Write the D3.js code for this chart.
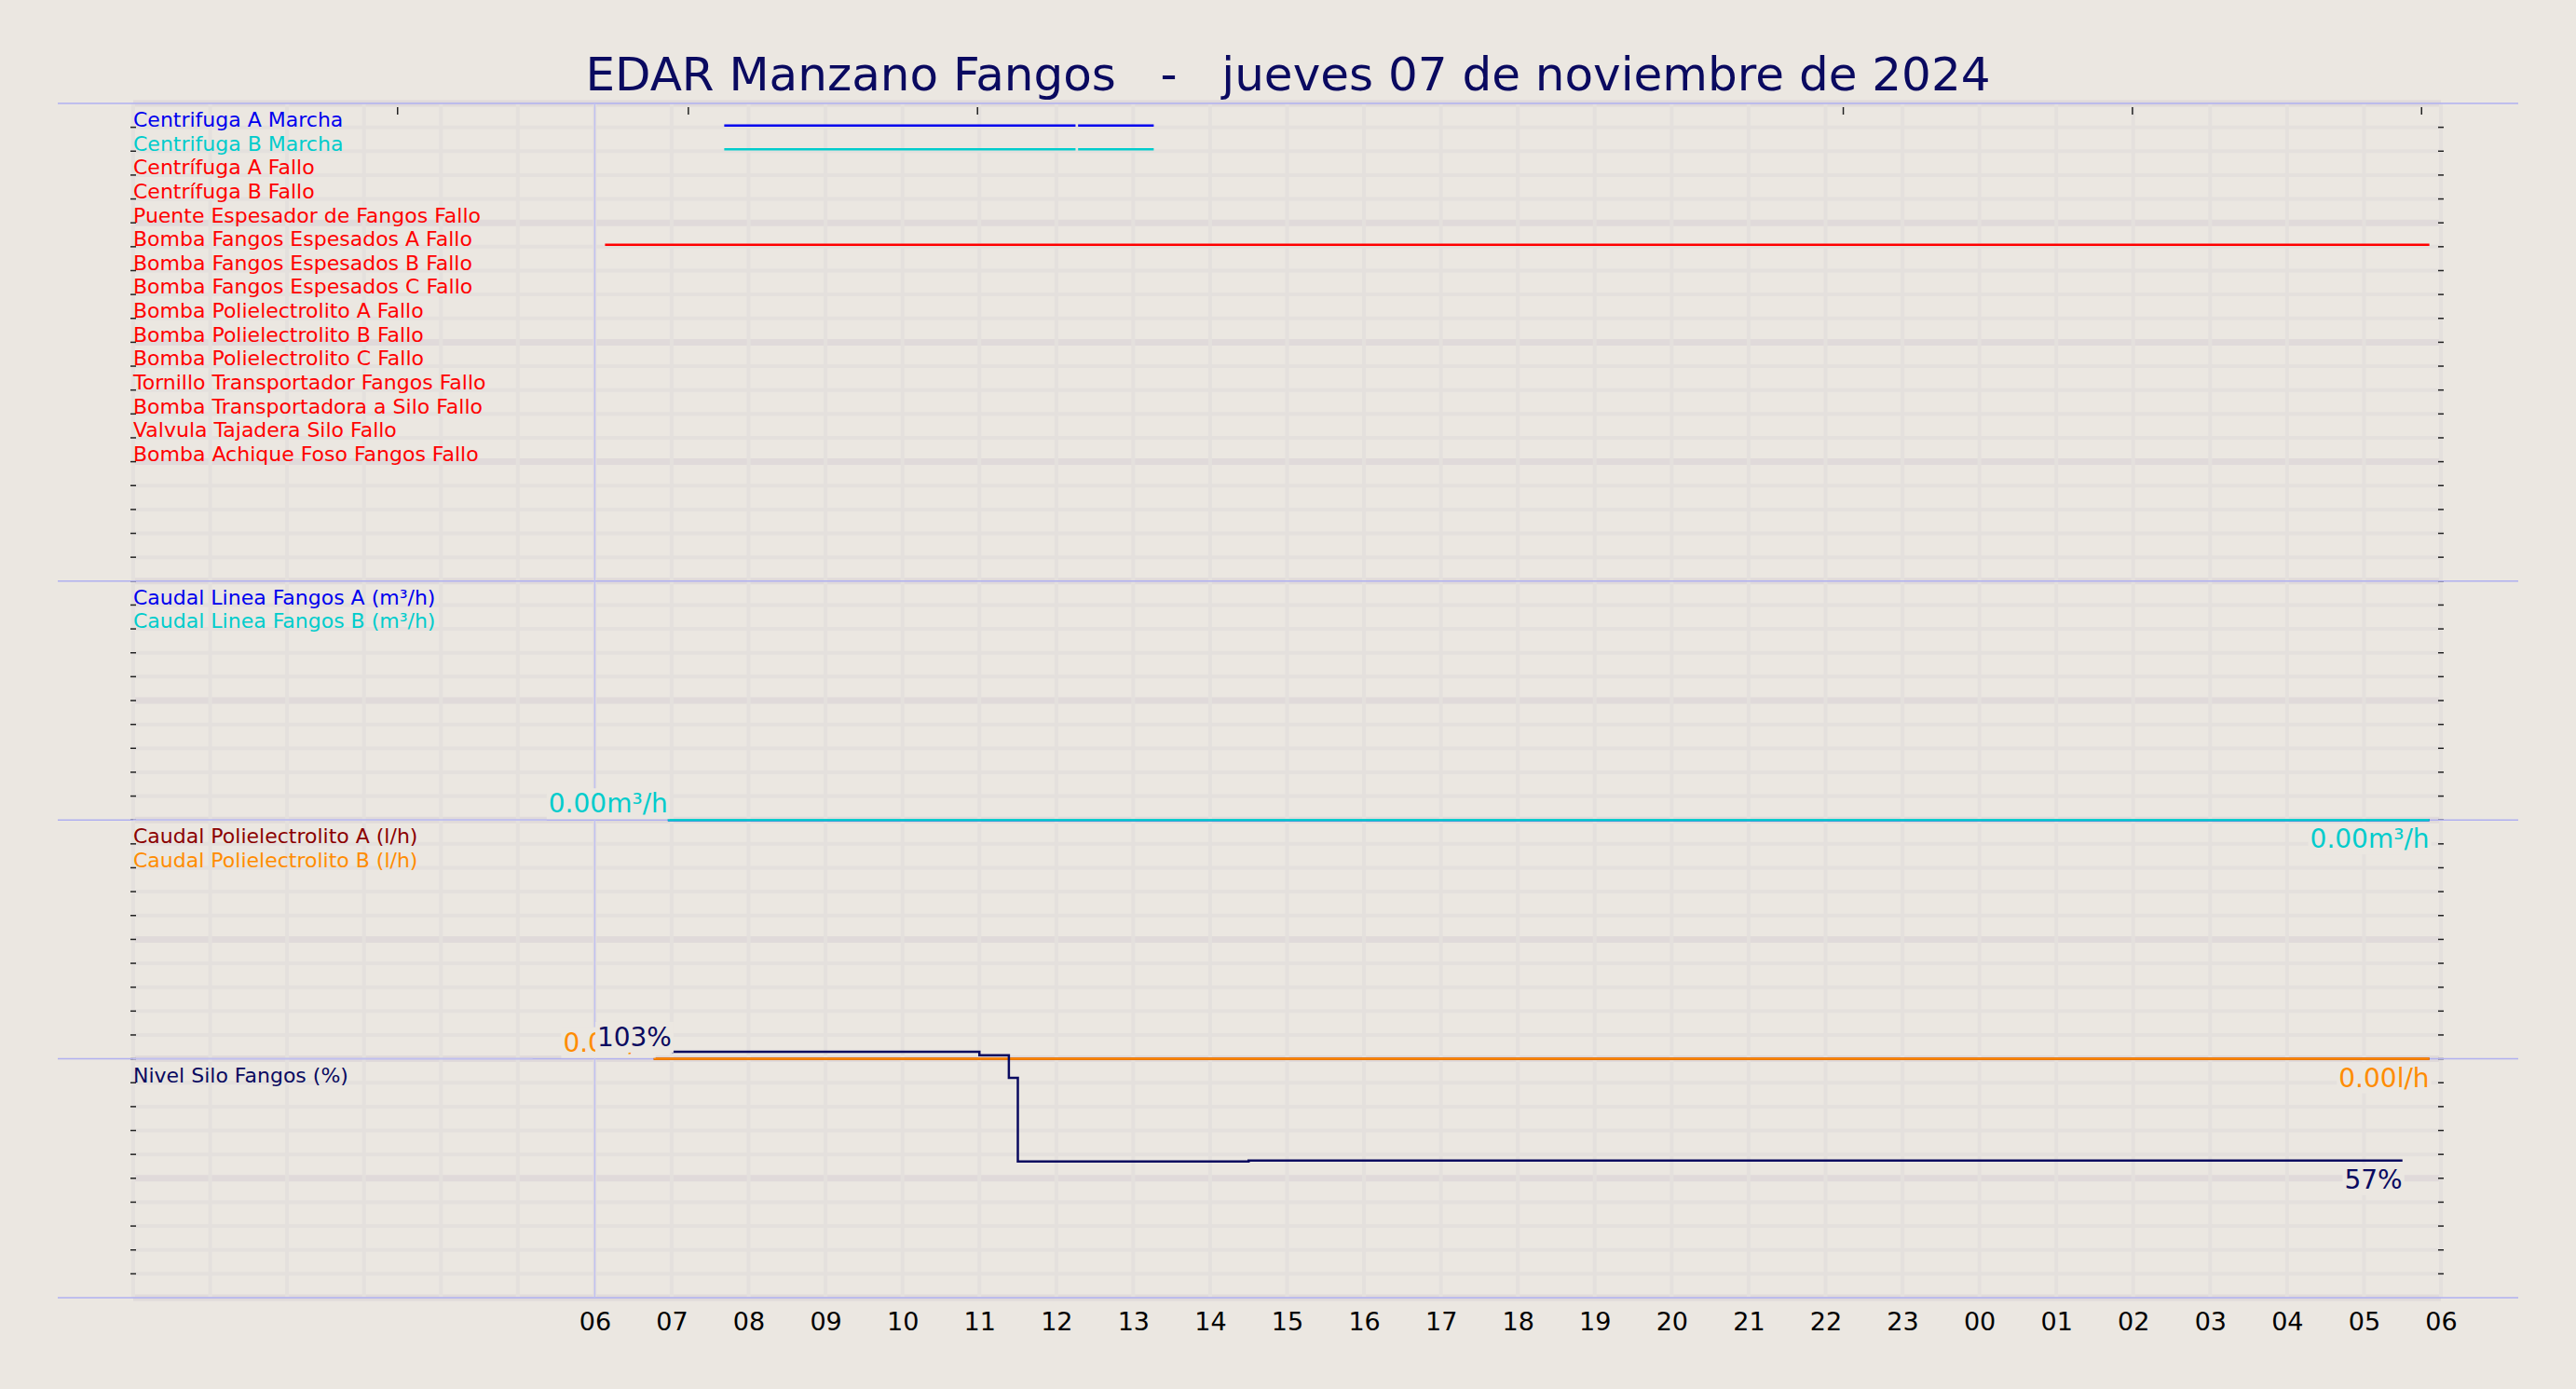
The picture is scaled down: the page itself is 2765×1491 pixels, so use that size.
<!DOCTYPE html>
<html><head><meta charset="utf-8">
<script src="https://cdn.jsdelivr.net/npm/d3@7"></script>
<style>body{margin:0;background:#ebe7e1;}text{font-family:"DejaVu Sans",sans-serif;}</style>
</head><body><div id="chart"></div>
<script>
// digital signals (top panel)
const digitalLabels = ["Centrifuga A Marcha","Centrifuga B Marcha","Centrífuga A Fallo","Centrífuga B Fallo",
  "Puente Espesador de Fangos Fallo","Bomba Fangos Espesados A Fallo","Bomba Fangos Espesados B Fallo",
  "Bomba Fangos Espesados C Fallo","Bomba Polielectrolito A Fallo","Bomba Polielectrolito B Fallo",
  "Bomba Polielectrolito C Fallo","Tornillo Transportador Fangos Fallo","Bomba Transportadora a Silo Fallo",
  "Valvula Tajadera Silo Fallo","Bomba Achique Foso Fangos Fallo"];
const digitalColors = ["#0000ee","#00cccc","#ff0000","#ff0000","#ff0000","#ff0000","#ff0000","#ff0000",
  "#ff0000","#ff0000","#ff0000","#ff0000","#ff0000","#ff0000","#ff0000"];
// [row, start, end]
const digitalOn = [
  [0,"2024-11-07 07:41","2024-11-07 12:15"],[0,"2024-11-07 12:17","2024-11-07 13:16"],
  [1,"2024-11-07 07:41","2024-11-07 12:15"],[1,"2024-11-07 12:17","2024-11-07 13:16"],
  [5,"2024-11-07 06:08","2024-11-08 05:51"]];

const caudalLabels = ["Caudal Linea Fangos A (m³/h)","Caudal Linea Fangos B (m³/h)"];
const caudalColors = ["#0000ee","#00cccc"];
const caudalA = [["2024-11-07 06:57",0],["2024-11-08 05:51",0]];
const caudalB = [["2024-11-07 06:57",0],["2024-11-08 05:51",0]];

const polyLabels = ["Caudal Polielectrolito A (l/h)","Caudal Polielectrolito B (l/h)"];
const polyColors = ["#8b0000","#ff8c00"];
const polyA = [["2024-11-07 06:46",0],["2024-11-08 05:51",0]];
const polyB = [["2024-11-07 06:46",0],["2024-11-08 05:51",0]];

const nivelLabel = "Nivel Silo Fangos (%)";
const nivel = [["2024-11-07 07:00",103],["2024-11-07 11:00",101.5],["2024-11-07 11:23",92],
  ["2024-11-07 11:30",57],["2024-11-07 14:30",57.4],["2024-11-08 05:30",57.4]];

const W = 2765, H = 1491;
const pLeft = 143, pRight = 2620, pTop = 111, pBottom = 1393;
const rowsPer = [20,10,10,10];
const rowH = (pBottom - pTop) / 50;
const parse = d3.timeParse("%Y-%m-%d %H:%M");

const svg = d3.select("#chart").append("svg").attr("width", W).attr("height", H);
svg.append("rect").attr("width", W).attr("height", H).attr("fill", "#ebe7e1");

const x = d3.scaleTime().domain([parse("2024-11-07 00:00"), parse("2024-11-08 06:00")]).range([pLeft, pRight]);

// panel tops
const panelTop = [];
let acc = pTop;
rowsPer.forEach(n => { panelTop.push(acc); acc += n * rowH; });

// grid
const grid = svg.append("g");
for (let r = 0; r <= 50; r++) {
  const y = pTop + r * rowH;
  grid.append("line").attr("x1", pLeft).attr("x2", pRight).attr("y1", y).attr("y2", y)
    .attr("stroke", r % 5 === 0 ? "#e0dada" : "#e4e0dd").attr("stroke-width", r % 5 === 0 ? 7 : 4);
}
x.ticks(d3.timeHour.every(1)).forEach(t => {
  grid.append("line").attr("x1", x(t)).attr("x2", x(t)).attr("y1", pTop).attr("y2", pBottom)
    .attr("stroke", "#e4e0dd").attr("stroke-width", 4);
});
// small ticks left/right
for (let r = 1; r < 50; r++) {
  const y = pTop + r * rowH;
  [pLeft, pRight].forEach(xx => grid.append("line").attr("x1", xx - 3).attr("x2", xx + 3)
    .attr("y1", y).attr("y2", y).attr("stroke", "#222").attr("stroke-width", 1.5));
}
// panel separators
[pTop, ...panelTop.slice(1), pBottom].forEach(y => {
  svg.append("line").attr("x1", 62).attr("x2", 2703).attr("y1", y).attr("y2", y)
    .attr("stroke", "#b0b0f0").attr("stroke-width", 1.5);
});
svg.append("line").attr("x1", x(parse("2024-11-07 06:00"))).attr("x2", x(parse("2024-11-07 06:00")))
  .attr("y1", pTop).attr("y2", pBottom).attr("stroke", "#c0c0f0").attr("stroke-width", 1.5);

// x axis
const xAxis = svg.append("g").attr("transform", `translate(0,${pBottom})`)
  .call(d3.axisBottom(x).tickValues(d3.timeHour.range(parse("2024-11-07 06:00"), parse("2024-11-08 06:01")))
    .tickFormat(d3.timeFormat("%H")).tickSize(0).tickPadding(16));
xAxis.select(".domain").remove();
xAxis.selectAll("text").attr("font-size", 27).attr("fill", "#000").attr("font-family", "DejaVu Sans");

// title
svg.append("text").attr("x", W / 2).attr("y", 97).attr("text-anchor", "middle")
  .attr("font-size", 50).attr("fill", "#0a0a60").style("white-space", "pre")
  .text("EDAR Manzano Fangos   -   jueves 07 de noviembre de 2024");

function labels(list, colors, p) {
  list.forEach((l, i) => svg.append("text").attr("x", pLeft).attr("y", panelTop[p] + rowH * i + 25)
    .attr("font-size", 22).attr("fill", colors[i]).text(l));
}

// top panel
labels(digitalLabels, digitalColors, 0);
digitalOn.forEach(([r, a, b]) => {
  const y = panelTop[0] + rowH * (r + 1) - 2;
  svg.append("line").attr("x1", x(parse(a))).attr("x2", x(parse(b))).attr("y1", y).attr("y2", y)
    .attr("stroke", digitalColors[r]).attr("stroke-width", 2.5);
});

function valueLabel(txt, xx, yy, color, anchor) {
  const t = svg.append("text").attr("x", xx).attr("y", yy).attr("text-anchor", anchor)
    .attr("font-size", 28).attr("fill", color).text(txt);
  const bb = t.node().getBBox();
  svg.insert("rect", () => t.node()).attr("x", bb.x - 2).attr("y", bb.y).attr("width", bb.width + 4)
    .attr("height", bb.height).attr("fill", "#ebe7e1");
}

function analog(p, series, colors, domain, unit, fmt) {
  const y = d3.scaleLinear().domain(domain).range([panelTop[p] + rowsPer[p] * rowH, panelTop[p]]);
  const line = d3.line().x(d => x(parse(d[0]))).y(d => y(d[1])).curve(d3.curveStepAfter);
  series.forEach((s, i) => {
    svg.append("path").attr("d", line(s)).attr("fill", "none").attr("stroke", colors[i]).attr("stroke-width", 2.5);
  });
  const last = series[series.length - 1];
  const s0 = last[0], s1 = last[last.length - 1];
  svg.append("line").attr("x1", pLeft).attr("x2", x(parse(s0[0])) - 130).attr("y1", y(s0[1])).attr("y2", y(s0[1]))
    .attr("stroke", "#c0c0f0").attr("stroke-width", 1.5);
  valueLabel(fmt(s0[1]) + unit, x(parse(s0[0])), y(s0[1]) - 8, colors[colors.length - 1], "end");
  valueLabel(fmt(s1[1]) + unit, x(parse(s1[0])), y(s1[1]) + 30, colors[colors.length - 1], "end");
  return y;
}

labels(caudalLabels, caudalColors, 1);
analog(1, [caudalA, caudalB], caudalColors, [0, 100], "m³/h", d3.format(".2f"));
labels(polyLabels, polyColors, 2);
analog(2, [polyA, polyB], polyColors, [0, 100], "l/h", d3.format(".2f"));
labels([nivelLabel], ["#0a0a60"], 3);
const yN = d3.scaleLinear().domain([0, 100]).range([panelTop[3] + 10 * rowH, panelTop[3]]);
svg.append("path").attr("d", d3.line().x(d => x(parse(d[0]))).y(d => yN(d[1])).curve(d3.curveStepAfter)(nivel))
  .attr("fill", "none").attr("stroke", "#0a0a60").attr("stroke-width", 2.5);
valueLabel("103%", x(parse(nivel[0][0])), yN(nivel[0][1]) - 6, "#0a0a60", "end");
const nl = nivel[nivel.length - 1];
valueLabel("57%", x(parse(nl[0])), yN(nl[1]) + 30, "#0a0a60", "end");

// top minor ticks
[242, 419, 595, 1122, 1298, 1474].forEach(d => {
  const xx = d * 1.7634;
  svg.append("line").attr("x1", xx).attr("x2", xx).attr("y1", pTop + 4).attr("y2", pTop + 12)
    .attr("stroke", "#222").attr("stroke-width", 1.5);
});
</script></body></html>
